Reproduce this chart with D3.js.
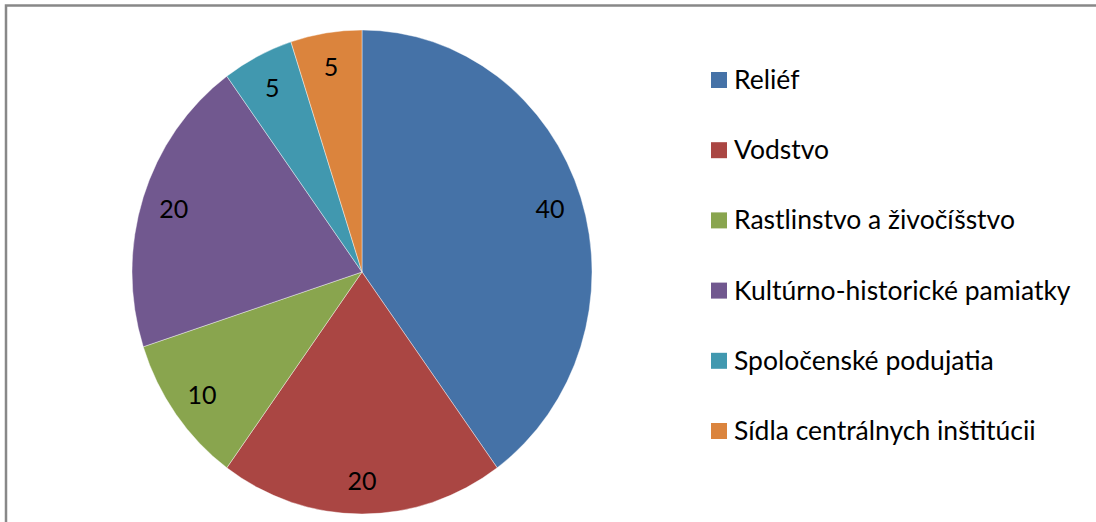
<!DOCTYPE html>
<html>
<head>
<meta charset="utf-8">
<script src="https://cdn.jsdelivr.net/npm/d3@7"></script>
<style>
html,body{margin:0;padding:0;background:#fff;overflow:hidden;}
</style>
</head>
<body>
<svg id="chart" width="1096" height="522"></svg>
<script>
const categories = ["Reliéf","Vodstvo","Rastlinstvo a živočíšstvo","Kultúrno-historické pamiatky","Spoločenské podujatia","Sídla centrálnych inštitúcii"];
const values = [40,20,10,20,5,5];
const colors = ["#4572A7","#AA4643","#89A54E","#71588F","#4198AF","#DB843D"];

const W = 1096, H = 522;
const svg = d3.select("#chart");
const font = "Lato, 'Open Sans', sans-serif";

// frame
svg.append("path")
  .attr("d", "M6,522 V5.5 H1096")
  .attr("fill","none").attr("stroke","#888").attr("stroke-width",2.5);

const cx = 362, cy = 272, rx = 230, ry = 242;
const sy = ry/rx;
const color = d3.scaleOrdinal().domain(categories).range(colors);
const pie = d3.pie().sort(null).value(d => d.v);
const data = categories.map((c,i) => ({c, v: values[i]}));
const arcs = pie(data);
const arc = d3.arc().innerRadius(0).outerRadius(rx);

const g = svg.append("g").attr("transform", `translate(${cx},${cy}) scale(1,${sy})`);
g.selectAll("path").data(arcs).join("path")
  .attr("d", arc)
  .attr("fill", d => color(d.data.c))
  .attr("stroke", "#fff").attr("stroke-opacity",0.5).attr("stroke-width",0.8);

const lr = rx*0.86;
svg.append("g").selectAll("text").data(arcs).join("text")
  .attr("x", d => cx + lr*Math.sin((d.startAngle+d.endAngle)/2))
  .attr("y", d => cy - lr*sy*Math.cos((d.startAngle+d.endAngle)/2))
  .attr("text-anchor","middle").attr("dominant-baseline","central")
  .attr("font-family", font).attr("font-size", 25).attr("fill","#000")
  .text(d => d.data.v);

// legend
const lg = svg.append("g");
const ly = d3.scalePoint().domain(categories).range([80, 431]);
lg.selectAll("rect").data(categories).join("rect")
  .attr("x", 711).attr("y", d => ly(d) - 8).attr("width", 16).attr("height", 16)
  .attr("fill", d => color(d));
lg.selectAll("text").data(categories).join("text")
  .attr("x", 734).attr("y", d => ly(d) + 9)
  .attr("font-family", font).attr("font-size", 26.5).attr("fill","#000")
  .text(d => d);
</script>
</body>
</html>
